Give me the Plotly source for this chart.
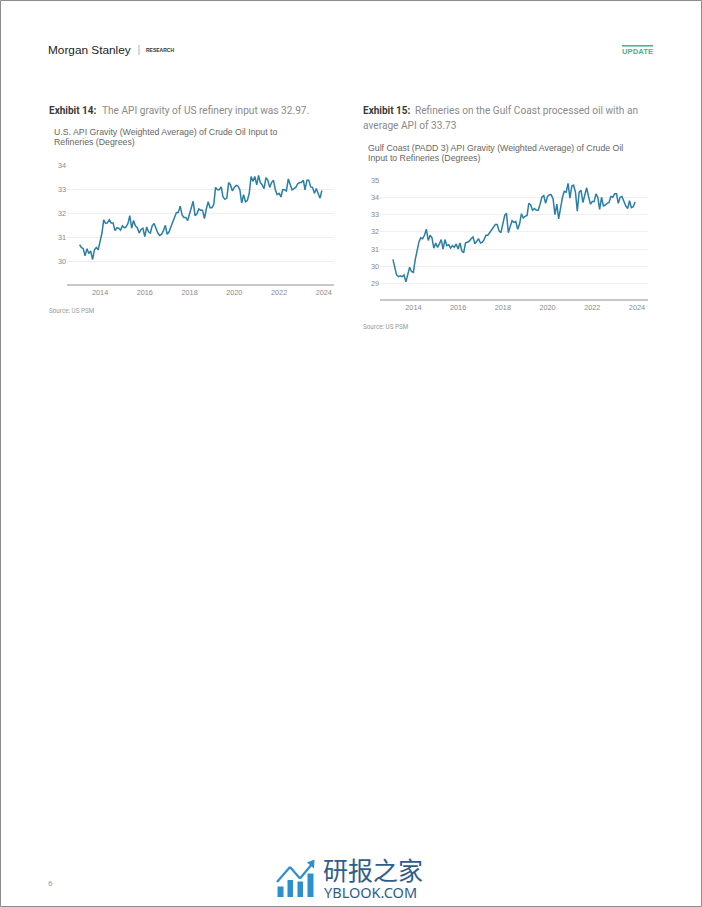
import pandas as pd
import plotly.graph_objects as go

W, H = 702, 907

START_MONTH = "2013-02-01"
us_api = [30.72, 30.6, 30.55, 30.25, 30.55, 30.35, 30.45, 30.1, 30.5, 30.6, 30.5, 30.8, 31.2, 31.75, 31.6,
          31.62, 31.75, 31.62, 31.62, 31.3, 31.42, 31.4, 31.32, 31.5, 31.42, 31.45, 31.6, 31.92, 31.4, 31.72,
          31.5, 31.42, 31.2, 31.35, 31.4, 31.05, 31.45, 31.25, 31.2, 31.5, 31.6, 31.4, 31.2, 31.1, 31.15,
          31.3, 31.52, 31.15, 31.25, 31.45, 31.65, 31.8, 32.05, 32.05, 32.32, 31.95, 31.85, 31.85, 31.72, 32.0,
          32.25, 32.52, 31.92, 32.0, 32.2, 32.15, 32.15, 31.8, 32.2, 32.5, 32.25, 32.25, 32.4, 33.1, 33.0,
          33.0, 33.12, 32.7, 32.6, 32.65, 33.3, 33.2, 32.95, 33.1, 33.18, 33.15, 33.0, 32.45, 32.8, 32.5,
          32.55, 32.85, 33.55, 33.35, 33.55, 33.2, 33.6, 33.3, 33.2, 33.05, 33.5, 33.4, 33.1, 33.3, 33.4,
          33.0, 32.8, 32.85, 32.7, 33.0, 33.0, 32.95, 33.45, 33.25, 33.0, 33.05, 33.1, 33.25, 33.3, 33.3,
          33.4, 33.0, 33.4, 33.4, 33.12, 33.1, 32.85, 33.05, 32.85, 32.65, 32.97]
gulf_api = [30.4, 29.9, 29.5, 29.4, 29.45, 29.4, 29.5, 29.1, 29.5, 29.95, 29.7, 29.65, 30.4, 31.0, 31.4,
            31.65, 31.6, 31.8, 32.15, 31.5, 31.8, 31.65, 31.05, 31.35, 31.1, 31.3, 31.55, 31.0, 31.55, 31.2,
            31.25, 31.05, 31.2, 31.1, 31.3, 31.0, 31.35, 30.9, 30.78, 31.35, 31.4, 31.45, 31.6, 31.7, 31.3,
            31.45, 31.6, 31.35, 31.4, 31.55, 31.8, 31.8, 31.95, 32.1, 32.25, 32.42, 32.42, 32.05, 31.95, 32.5,
            32.95, 33.08, 31.95, 32.3, 32.65, 32.55, 32.6, 32.15, 32.45, 33.05, 32.8, 32.9, 32.95, 33.65, 33.55,
            33.25, 33.35, 33.25, 33.25, 33.6, 34.0, 34.1, 33.65, 34.05, 34.15, 34.15, 33.9, 33.0, 33.6, 32.75,
            33.5, 34.0, 34.35, 34.3, 34.8, 33.95, 34.65, 34.7, 34.3, 33.2, 34.3, 34.4, 33.7, 34.2, 34.55,
            34.05, 33.6, 33.75, 33.75, 34.2, 34.0, 33.3, 34.0, 33.5, 33.55, 33.65, 33.7, 34.05, 34.0, 34.2,
            34.2, 33.65, 34.0, 34.05, 33.7, 33.5, 33.35, 33.8, 33.4, 33.45, 33.73]
months = pd.date_range(START_MONTH, periods=len(us_api), freq="MS")

LINE = "#2a7fa8"
GRID = "#efefef"
AXIS = "#c8c8c8"
TICK = "#8a8a8a"
TXT = "#8a8a8a"
DARK = "#3a3a3a"
TITLE = "#666666"


def px(x):
    return x / W


def py(y):
    return 1 - y / H


fig = go.Figure()
fig.add_trace(go.Scatter(x=months, y=us_api, mode="lines", xaxis="x", yaxis="y",
                         line=dict(color=LINE, width=1.5), showlegend=False))
fig.add_trace(go.Scatter(x=months, y=gulf_api, mode="lines", xaxis="x2", yaxis="y2",
                         line=dict(color=LINE, width=1.5), showlegend=False))

xcommon = dict(type="date", tick0="2014-01-01", dtick="M24", tickformat="%Y", showgrid=False,
               zeroline=False, showline=True, linecolor=AXIS, linewidth=1.5, ticks="",
               tickfont=dict(family="Liberation Sans", size=7.3, color=TICK))
ycommon = dict(dtick=1, showgrid=True, gridcolor=GRID, gridwidth=1, zeroline=False, showline=False,
               ticks="", tickfont=dict(family="Liberation Sans", size=7.3, color=TICK))

fig.update_layout(
    width=W, height=H, autosize=False, margin=dict(l=0, r=0, t=0, b=0, autoexpand=False),
    paper_bgcolor="white", plot_bgcolor="white", showlegend=False,
    xaxis=dict(domain=[px(67), px(334)], range=["2012-07-10", "2024-06-16"], anchor="y", **xcommon),
    yaxis=dict(domain=[py(284), py(165)], range=[29.08, 34.03], anchor="x", **ycommon),
    xaxis2=dict(domain=[px(380), px(647.7)], range=["2012-07-05", "2024-06-24"], anchor="y2", **xcommon),
    yaxis2=dict(domain=[py(299.3), py(179.5)], range=[28.09, 35.03], anchor="x2", **ycommon),
)

annotations = []


def txt(x, y, s, size, color, family="Roboto", anchor="left", bold=False):
    label = f"<b>{s}</b>" if bold else s
    annotations.append(dict(x=px(x), y=py(y), xref="paper", yref="paper", text=label, showarrow=False,
                            xanchor=anchor, yanchor="middle", borderpad=0, borderwidth=0,
                            font=dict(family=family, size=size, color=color)))


# Header
txt(48, 50, "Morgan Stanley", 11.8, "#222222", "Liberation Sans")
txt(146, 50.5, "RESEARCH", 5, "#333333", "Liberation Sans", bold=True)
txt(622, 51, "UPDATE", 7.7, "#45b592", "Liberation Sans", bold=True)

# Exhibit 14
txt(49, 111, "Exhibit 14:", 10, DARK, "Roboto", bold=True)
txt(101.5, 111, "The API gravity of US refinery input was 32.97.", 10.15, TXT, "Roboto")
txt(54, 132, "U.S. API Gravity (Weighted Average) of Crude Oil Input to", 8.75, TITLE, "Liberation Sans")
txt(54, 142, "Refineries (Degrees)", 8.75, TITLE, "Liberation Sans")
txt(49, 311, "Source: US PSM", 6.3, "#999999", "Roboto")

# Exhibit 15
txt(362.5, 111, "Exhibit 15:", 10, DARK, "Roboto", bold=True)
txt(415, 111, "Refineries on the Gulf Coast processed oil with an", 10.15, TXT, "Roboto")
txt(362.5, 126, "average API of 33.73", 10.15, TXT, "Roboto")
txt(368, 148, "Gulf Coast (PADD 3) API Gravity (Weighted Average) of Crude Oil", 8.75, TITLE, "Liberation Sans")
txt(368, 158, "Input to Refineries (Degrees)", 8.75, TITLE, "Liberation Sans")
txt(362.5, 327, "Source: US PSM", 6.3, "#999999", "Roboto")

# Footer
txt(48, 883, "6", 8, "#999999", "Roboto")
txt(323, 868.5, "研报之家", 25, "#2f5d8c", "Noto Sans CJK SC")
txt(324, 891.5, "YBLOOK.COM", 14.5, "#2f5d8c", "Noto Sans")

shapes = []


def rect(x0, y0, x1, y1, fill):
    shapes.append(dict(type="rect", xref="paper", yref="paper", x0=px(x0), x1=px(x1), y0=py(y0), y1=py(y1),
                       fillcolor=fill, line=dict(width=0), layer="below"))


def seg(x0, y0, x1, y1, color, width):
    shapes.append(dict(type="line", xref="paper", yref="paper", x0=px(x0), x1=px(x1), y0=py(y0), y1=py(y1),
                       line=dict(color=color, width=width)))


# Page border
shapes.append(dict(type="rect", xref="paper", yref="paper", x0=px(0.5), x1=px(701.5), y0=py(0.5), y1=py(906.5),
                   line=dict(color="#8c8c8c", width=1), fillcolor="rgba(0,0,0,0)", layer="below"))
# Header furniture
seg(139, 45, 139, 55, "#999999", 0.8)
rect(622, 45, 653, 46.6, "#45b592")
# Watermark glyph
BLUE = "#2b8fd0"
rect(277.5, 886.5, 283.5, 897, BLUE)
rect(287.5, 880, 293, 897, BLUE)
rect(297.5, 881.5, 303, 897, BLUE)
rect(307.5, 873.5, 313.5, 897, BLUE)
seg(277, 882, 290, 867, BLUE, 2.2)
seg(290, 867, 300, 878.5, BLUE, 2.2)
seg(300, 878.5, 312, 864, BLUE, 2.2)
shapes.append(dict(type="path", xref="paper", yref="paper",
                   path=f"M {px(314.5)} {py(859.5)} L {px(314)} {py(868.5)} L {px(307)} {py(862.5)} Z",
                   fillcolor=BLUE, line=dict(width=0)))

fig.update_layout(annotations=annotations, shapes=shapes)
fig.write_html("out.html", config=dict(displayModeBar=False),
               post_script="document.documentElement.style.margin='0';document.body.style.margin='0';"
                           "document.body.style.overflow='hidden';")
